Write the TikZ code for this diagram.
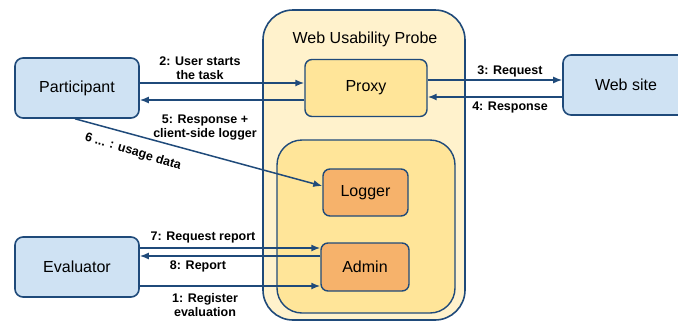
\documentclass[tikz,border=0pt]{standalone}
\usepackage{fontspec}
\setmainfont{Liberation Sans}
\usetikzlibrary{arrows.meta}
\definecolor{edge}{HTML}{1F4A7A}
\definecolor{bluefill}{HTML}{CFE2F3}
\definecolor{probefill}{HTML}{FFF2CC}
\definecolor{innerfill}{HTML}{FFE599}
\definecolor{orangefill}{HTML}{F6B26B}
\tikzset{
  actor/.style={draw=edge, line width=1.6pt, fill=bluefill, rounded corners=8pt,
    minimum width=124pt, minimum height=60pt, inner sep=0pt, font=\fontsize{16}{18}\selectfont},
  part/.style={draw=edge, line width=1.4pt, rounded corners=7pt, inner sep=0pt,
    font=\fontsize{16}{18}\selectfont},
  arr/.style={draw=edge, line width=1.5pt, -{Latex[length=9pt,width=7pt]}},
  lbl/.style={font=\bfseries\fontsize{12.5}{14}\selectfont, align=center, inner sep=0pt}
}
\begin{document}
\begin{tikzpicture}[x=1pt,y=-1pt]
\useasboundingbox (0,0) rectangle (678,322);
% containers
\node[draw=edge, line width=1.6pt, fill=probefill, rounded corners=30pt,
  minimum width=202pt, minimum height=310pt, inner sep=0pt] (probe) at (364,165) {};
\node[font=\fontsize{16}{18}\selectfont] (ptitle) at (365,39) {Web Usability Probe};
\node[draw=edge, line width=1.4pt, fill=innerfill, rounded corners=25pt,
  minimum width=178pt, minimum height=173pt, inner sep=0pt] (inner) at (366,226.5) {};
% parts
\node[part, fill=innerfill, minimum width=122pt, minimum height=57pt] (proxy) at (366,88) {Proxy};
\node[part, fill=orangefill, minimum width=85pt, minimum height=47pt] (logger) at (365.5,192.5) {Logger};
\node[part, fill=orangefill, minimum width=88pt, minimum height=48pt] (admin) at (365,267) {Admin};
% actors
\node[actor] (participant) at (77,88) {Participant};
\node[actor] (evaluator) at (77,267) {Evaluator};
\node[actor, minimum width=126pt] (website) at (626,85) {Web site};
% connectors
\draw[arr] (participant.east |- 0,83) -- (proxy.west |- 0,83);
\draw[arr] (proxy.west |- 0,100) -- (participant.east |- 0,100);
\draw[arr] (proxy.east |- 0,80) -- (website.west |- 0,80);
\draw[arr] (website.west |- 0,97) -- (proxy.east |- 0,97);
\draw[arr] ([xshift=-2pt]participant.south) -- ([yshift=6.5pt]logger.west);
\draw[arr] (evaluator.east |- 0,248) -- (admin.west |- 0,248);
\draw[arr] (admin.west |- 0,256) -- (evaluator.east |- 0,256);
\draw[arr] (evaluator.east |- 0,286) -- (admin.west |- 0,286);
% labels
\node[lbl] (l2) at (200,68) {2: User starts\\the task};
\node[lbl] (l5) at (205,127.5) {5: Response +\\client-side logger};
\node[lbl, rotate=-17] (l6) at (133,152) {6 ... : usage data};
\node[lbl] (l3) at (510,71) {3: Request};
\node[lbl] (l4) at (510,107) {4: Response};
\node[lbl] (l7) at (203,237) {7: Request report};
\node[lbl] (l8) at (198,266) {8: Report};
\node[lbl] (l1) at (205,305.5) {1: Register\\evaluation};
\end{tikzpicture}
\end{document}
